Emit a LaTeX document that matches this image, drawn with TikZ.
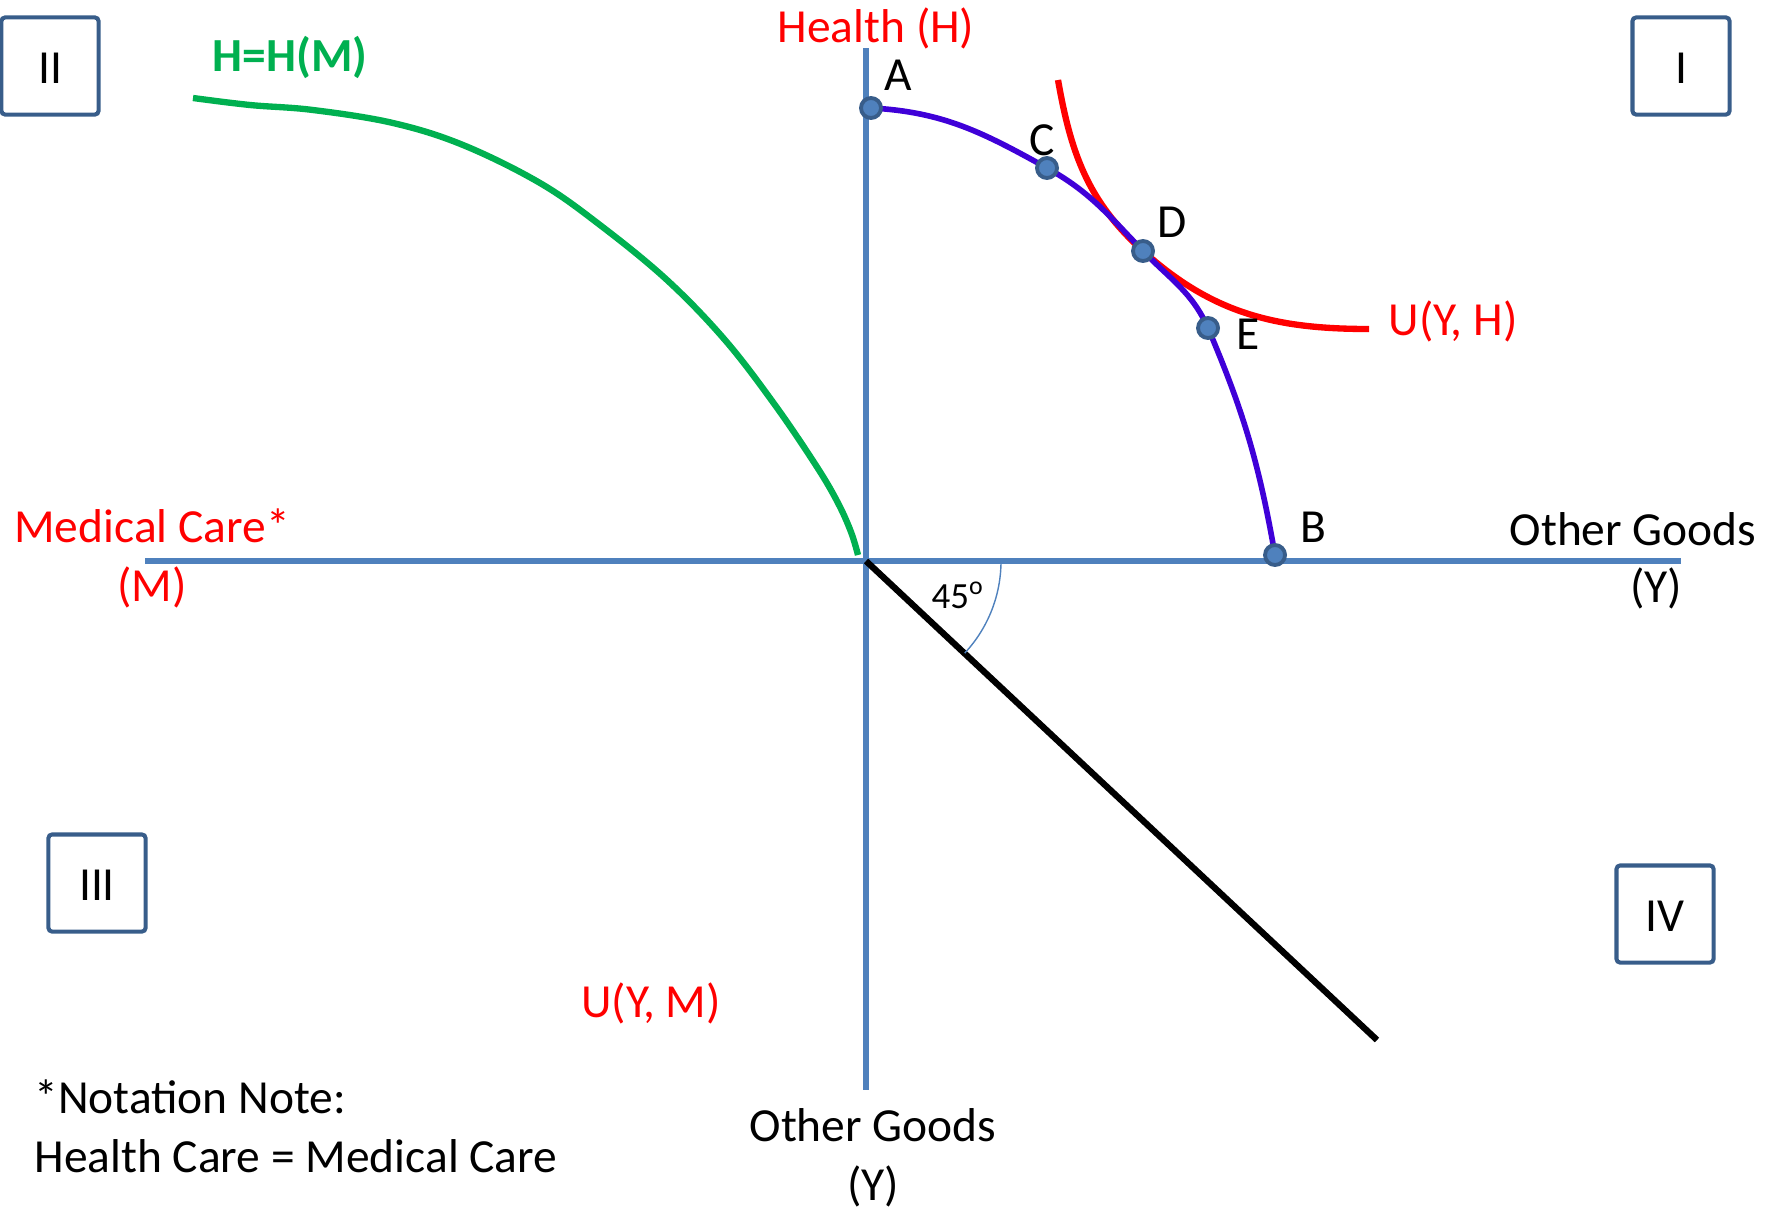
\documentclass[tikz,border=0pt]{standalone}
\usepackage{fontspec}
\setmainfont{Carlito}
\definecolor{axisblue}{HTML}{4F81BD}
\definecolor{boxblue}{HTML}{385D8A}
\definecolor{ppfblue}{HTML}{3F00D8}
\definecolor{hgreen}{HTML}{00B050}
\begin{document}
\begin{tikzpicture}[x=0.01cm,y=0.01cm,
    every node/.style={font=\fontsize{13.5pt}{16.8pt}\selectfont},
    quadbox/.style={draw=boxblue,line width=1.15pt,rounded corners=1pt,minimum width=0.97cm,minimum height=0.97cm,text height=1em,text depth=0pt},
    dot/.style={circle,draw=boxblue,fill=axisblue,line width=1.1pt,minimum size=0.2cm,inner sep=0pt}]
        \useasboundingbox (0,0) rectangle (1777,-1209);
        %% axes
        \coordinate (O) at (866,-561);
        \coordinate (Htop) at (866,-48);
        \coordinate (Ybot) at (866,-1090);
        \coordinate (Mleft) at (145,-561);
        \coordinate (Yright) at (1681,-561);
        \draw[axisblue,line width=1.9pt] (Htop) -- (Ybot);
        \draw[axisblue,line width=1.9pt] (Mleft) -- (Yright);
        %% 45 degree line
        \coordinate (L) at (1377,-1040);
        \draw[line width=1.8pt] (O) -- (L);
        \draw[axisblue,line width=0.4pt] (O) ++(0:135) arc (0:-43:135);
        \node[font=\fontsize{10.5pt}{12pt}\selectfont] (ang) at (958,-595) {45\textsuperscript{o}};
        %% H=H(M)
        \draw[hgreen,line width=1.8pt] plot[smooth,tension=0.6] coordinates {(193,-98) (250,-105) (313,-110) (393,-123) (463,-145) (540,-183) (600,-225) (667,-280) (725,-340) (775,-405) (817,-467) (838,-503) (851,-532) (858,-555)};
        %% points on the frontier
        \coordinate (A) at (871,-108);
        \coordinate (C) at (1047,-168);
        \coordinate (D) at (1143,-251);
        \coordinate (E) at (1208,-328);
        \coordinate (B) at (1275,-555);
        %% indifference curve
        \coordinate (U1) at (1058,-80);
        \coordinate (U2) at (1369,-329);
        \draw[red,line width=1.8pt] (U1) to[out=-80,in=138] (D) to[out=-42,in=180] (U2);
        %% frontier
        \draw[ppfblue,line width=1.6pt] (A) to[out=-3,in=151] (C) to[out=-29,in=134] (D) to[out=-46,in=114] (E) to[out=-67,in=100] (B);
        \node[dot] (dA) at (A) {};
        \node[dot] (dC) at (C) {};
        \node[dot] (dD) at (D) {};
        \node[dot] (dE) at (E) {};
        \node[dot] (dB) at (B) {};
        %% point labels
        \node (lA) at (898,-75) {A};
        \node (lC) at (1042,-140) {C};
        \node (lD) at (1172,-222) {D};
        \node (lE) at (1248,-334) {E};
        \node (lB) at (1313,-527) {B};
        %% axis labels
        \node[red] (hlab) at (876,-28) {Health (H)};
        \node[red,align=center] (mlab) at (152,-558) {Medical Care*\\(M)};
        \node (ylab) at (1633,-529) {Other Goods};
        \node (ylab2) at (1656,-588) {(Y)};
        \node[align=center] (ybot) at (873,-1158) {Other Goods\\(Y)};
        \node[red] (uyh) at (1453,-321) {U(Y, H)};
        \node[red] (uym) at (651,-1003) {U(Y, M)};
        \node[hgreen,font=\fontsize{13.5pt}{16.8pt}\selectfont\bfseries] (hm) at (290,-57) {H=H(M)};
        \node[align=left,anchor=west] (note) at (22,-1126) {*Notation Note:\\Health Care = Medical Care};
        %% quadrants
        \node[quadbox] (q2) at (50,-66) {II};
        \node[quadbox] (q1) at (1681,-66) {I};
        \node[quadbox] (q3) at (97,-883) {III};
        \node[quadbox] (q4) at (1665,-914) {IV};
    \end{tikzpicture}
\end{document}
